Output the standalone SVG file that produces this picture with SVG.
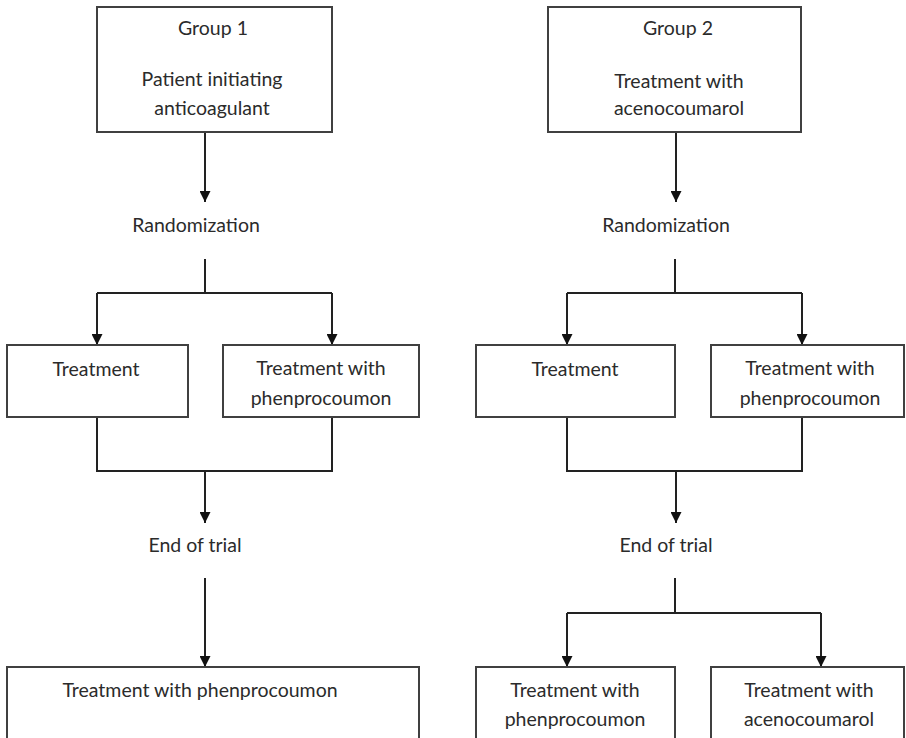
<svg xmlns="http://www.w3.org/2000/svg" width="906" height="738" viewBox="0 0 906 738">
<defs>
<style>
.box{fill:#fff;stroke:#404040;stroke-width:2}
.t{font-family:Lato,"Open Sans","Liberation Sans",sans-serif;font-size:19.5px;fill:#2b2b2b;text-anchor:middle}
.c{fill:none;stroke:#222;stroke-width:2}
</style>
<marker id="ah" markerUnits="userSpaceOnUse" markerWidth="11" markerHeight="11" refX="11" refY="5.5" orient="auto">
<path d="M0,0 L11,5.5 L0,11 z" fill="#111"/>
</marker>
</defs>
<rect width="906" height="738" fill="#fff"/>
<g id="connectors">
<path class="c" d="M205,132 V202" marker-end="url(#ah)"/>
<path class="c" d="M205,259 V293 M97,293 H332"/>
<path class="c" d="M97,293 V345" marker-end="url(#ah)"/>
<path class="c" d="M332,293 V345" marker-end="url(#ah)"/>
<path class="c" d="M97,417 V471 H332 V417"/>
<path class="c" d="M205,471 V523" marker-end="url(#ah)"/>
<path class="c" d="M205,578 V667" marker-end="url(#ah)"/>
<path class="c" d="M676,132 V202" marker-end="url(#ah)"/>
<path class="c" d="M675,259 V293 M567,293 H802"/>
<path class="c" d="M567,293 V345" marker-end="url(#ah)"/>
<path class="c" d="M802,293 V345" marker-end="url(#ah)"/>
<path class="c" d="M567,417 V471 H802 V417"/>
<path class="c" d="M676,471 V523" marker-end="url(#ah)"/>
<path class="c" d="M675,578 V613 M567,613 H821"/>
<path class="c" d="M567,613 V667" marker-end="url(#ah)"/>
<path class="c" d="M821,613 V667" marker-end="url(#ah)"/>
</g>
<g id="group1">
<rect class="box" x="97" y="7" width="235" height="125"/>
<text class="t" x="213" y="35">Group 1</text>
<text class="t" x="212" y="86">Patient initiating</text>
<text class="t" x="212" y="115">anticoagulant</text>
</g>
<g id="rand1"><text class="t" x="196" y="232">Randomization</text></g>
<g id="treat1">
<rect class="box" x="7" y="345" width="181" height="72"/>
<text class="t" x="96" y="376">Treatment</text>
</g>
<g id="phen1">
<rect class="box" x="223" y="345" width="196" height="72"/>
<text class="t" x="321" y="375">Treatment with</text>
<text class="t" x="321" y="405">phenprocoumon</text>
</g>
<g id="end1"><text class="t" x="195" y="552">End of trial</text></g>
<g id="final1">
<rect class="box" x="7" y="667" width="412" height="90"/>
<text class="t" x="200" y="697">Treatment with phenprocoumon</text>
</g>
<g id="group2">
<rect class="box" x="548" y="7" width="253" height="125"/>
<text class="t" x="678" y="35">Group 2</text>
<text class="t" x="679" y="88">Treatment with</text>
<text class="t" x="679" y="115">acenocoumarol</text>
</g>
<g id="rand2"><text class="t" x="666" y="232">Randomization</text></g>
<g id="treat2">
<rect class="box" x="476" y="345" width="199" height="72"/>
<text class="t" x="575" y="376">Treatment</text>
</g>
<g id="phen2">
<rect class="box" x="711" y="345" width="193" height="72"/>
<text class="t" x="810" y="375">Treatment with</text>
<text class="t" x="810" y="405">phenprocoumon</text>
</g>
<g id="end2"><text class="t" x="666" y="552">End of trial</text></g>
<g id="final2a">
<rect class="box" x="476" y="667" width="199" height="90"/>
<text class="t" x="575" y="697">Treatment with</text>
<text class="t" x="575" y="726">phenprocoumon</text>
</g>
<g id="final2b">
<rect class="box" x="711" y="667" width="193" height="90"/>
<text class="t" x="809" y="697">Treatment with</text>
<text class="t" x="809" y="726">acenocoumarol</text>
</g>
</svg>
